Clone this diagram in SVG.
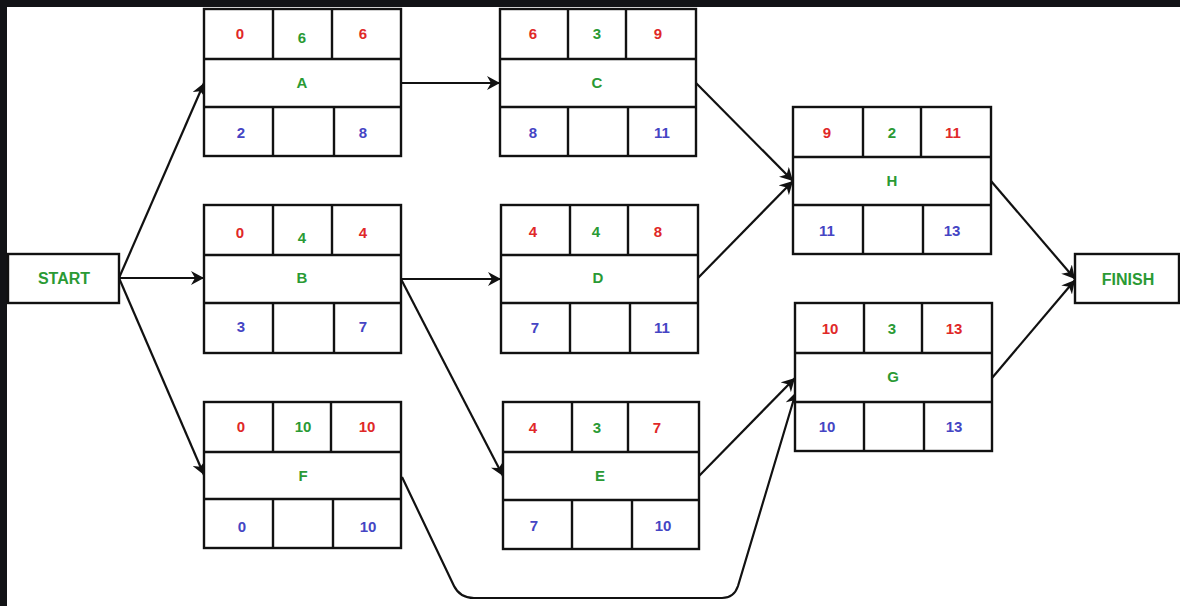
<svg xmlns="http://www.w3.org/2000/svg" width="1180" height="606" viewBox="0 0 1180 606">
<style>
.box{fill:#fff;stroke:#111;stroke-width:2.4}
.ln{stroke:#111;stroke-width:2.4;fill:none}
.c{stroke:#111;stroke-width:2.2;fill:none}
text{font-family:"Liberation Sans",Arial,sans-serif;font-weight:bold;font-size:15px;text-anchor:middle}
.r{fill:#e02828}
.g{fill:#2a9a34}
.b{fill:#4545c4}
.big{font-size:16px}
</style>
<defs>
<marker id="ar" markerUnits="userSpaceOnUse" markerWidth="16" markerHeight="14" refX="13" refY="7" orient="auto">
<path d="M0,0 L13,7 L0,14 L4,7 z" fill="#111"/>
</marker>
</defs>
<rect x="0" y="0" width="1180" height="606" fill="#fff"/>
<rect x="0" y="0" width="1180" height="7" fill="#121316"/>
<rect x="0" y="0" width="7" height="606" fill="#121316"/>

<g id="connectors">
<line class="c" x1="119" y1="278" x2="204" y2="83" marker-end="url(#ar)"/>
<line class="c" x1="119" y1="278" x2="204" y2="278" marker-end="url(#ar)"/>
<line class="c" x1="119" y1="278" x2="204" y2="475" marker-end="url(#ar)"/>
<line class="c" x1="401" y1="83" x2="500" y2="83" marker-end="url(#ar)"/>
<line class="c" x1="401" y1="279" x2="501" y2="279" marker-end="url(#ar)"/>
<line class="c" x1="401" y1="279" x2="503" y2="476" marker-end="url(#ar)"/>
<line class="c" x1="696" y1="83" x2="793" y2="181" marker-end="url(#ar)"/>
<line class="c" x1="698" y1="278" x2="793" y2="181" marker-end="url(#ar)"/>
<line class="c" x1="699" y1="476" x2="795" y2="378" marker-end="url(#ar)"/>
<path class="c" d="M402,477 L454,586 Q460,598 474,598 L722,598 Q734,598 738,586 L796,392" marker-end="url(#ar)"/>
<line class="c" x1="991" y1="181" x2="1075" y2="279" marker-end="url(#ar)"/>
<line class="c" x1="992" y1="378" x2="1075" y2="280" marker-end="url(#ar)"/>
</g>

<g id="start">
<rect class="box" x="8" y="254" width="111" height="49"/>
<text class="g big" x="64" y="284">START</text>
</g>

<g id="finish">
<rect class="box" x="1075" y="254" width="104" height="49"/>
<text class="g big" x="1128" y="285">FINISH</text>
</g>

<g id="nodeA">
<rect class="box" x="204" y="9" width="197" height="147"/>
<path class="ln" d="M204,59 H401 M204,107 H401 M273,9 V59 M332,9 V59 M273,107 V156 M334,107 V156"/>
<text class="r" x="240" y="39">0</text>
<text class="g" x="302" y="43">6</text>
<text class="r" x="363" y="39">6</text>
<text class="g" x="302" y="88">A</text>
<text class="b" x="241" y="138">2</text>
<text class="b" x="363" y="138">8</text>
</g>

<g id="nodeB">
<rect class="box" x="204" y="205" width="197" height="148"/>
<path class="ln" d="M204,255 H401 M204,303 H401 M273,205 V255 M332,205 V255 M273,303 V353 M334,303 V353"/>
<text class="r" x="240" y="238">0</text>
<text class="g" x="302" y="243">4</text>
<text class="r" x="363" y="238">4</text>
<text class="g" x="302" y="283">B</text>
<text class="b" x="241" y="332">3</text>
<text class="b" x="363" y="332">7</text>
</g>

<g id="nodeF">
<rect class="box" x="204" y="402" width="197" height="146"/>
<path class="ln" d="M204,452 H401 M204,499 H401 M273,402 V452 M331,402 V452 M273,499 V548 M333,499 V548"/>
<text class="r" x="241" y="432">0</text>
<text class="g" x="303" y="432">10</text>
<text class="r" x="367" y="432">10</text>
<text class="g" x="303" y="481">F</text>
<text class="b" x="242" y="532">0</text>
<text class="b" x="368" y="532">10</text>
</g>

<g id="nodeC">
<rect class="box" x="500" y="9" width="196" height="147"/>
<path class="ln" d="M500,59 H696 M500,107 H696 M568,9 V59 M626,9 V59 M568,107 V156 M628,107 V156"/>
<text class="r" x="533" y="39">6</text>
<text class="g" x="597" y="39">3</text>
<text class="r" x="658" y="39">9</text>
<text class="g" x="597" y="88">C</text>
<text class="b" x="533" y="138">8</text>
<text class="b" x="662" y="138">11</text>
</g>

<g id="nodeD">
<rect class="box" x="501" y="205" width="197" height="148"/>
<path class="ln" d="M501,255 H698 M501,303 H698 M570,205 V255 M628,205 V255 M570,303 V353 M630,303 V353"/>
<text class="r" x="533" y="237">4</text>
<text class="g" x="596" y="237">4</text>
<text class="r" x="658" y="237">8</text>
<text class="g" x="598" y="283">D</text>
<text class="b" x="535" y="333">7</text>
<text class="b" x="662" y="333">11</text>
</g>

<g id="nodeE">
<rect class="box" x="503" y="402" width="196" height="147"/>
<path class="ln" d="M503,452 H699 M503,500 H699 M572,402 V452 M628,402 V452 M572,500 V549 M632,500 V549"/>
<text class="r" x="533" y="433">4</text>
<text class="g" x="597" y="433">3</text>
<text class="r" x="657" y="433">7</text>
<text class="g" x="600" y="481">E</text>
<text class="b" x="534" y="531">7</text>
<text class="b" x="663" y="531">10</text>
</g>

<g id="nodeH">
<rect class="box" x="793" y="107" width="198" height="147"/>
<path class="ln" d="M793,157 H991 M793,205 H991 M863,107 V157 M921,107 V157 M863,205 V254 M923,205 V254"/>
<text class="r" x="827" y="138">9</text>
<text class="g" x="892" y="138">2</text>
<text class="r" x="953" y="138">11</text>
<text class="g" x="892" y="186">H</text>
<text class="b" x="827" y="236">11</text>
<text class="b" x="952" y="236">13</text>
</g>

<g id="nodeG">
<rect class="box" x="795" y="303" width="197" height="148"/>
<path class="ln" d="M795,353 H992 M795,402 H992 M864,303 V353 M922,303 V353 M864,402 V451 M924,402 V451"/>
<text class="r" x="830" y="334">10</text>
<text class="g" x="892" y="334">3</text>
<text class="r" x="954" y="334">13</text>
<text class="g" x="893" y="382">G</text>
<text class="b" x="827" y="432">10</text>
<text class="b" x="954" y="432">13</text>
</g>
</svg>
